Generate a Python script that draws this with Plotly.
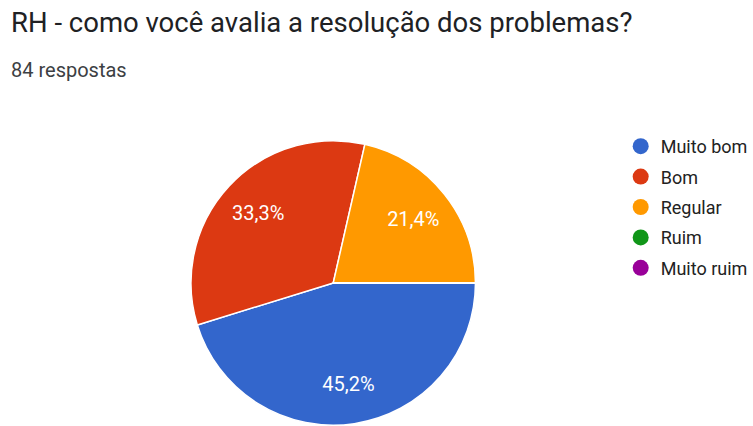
import plotly.graph_objects as go

categories = ["Muito bom", "Bom", "Regular", "Ruim", "Muito ruim"]
counts = [38, 28, 18, 0, 0]
colors = ["#3366cc", "#dc3912", "#ff9900", "#109618", "#990099"]
title_text = "RH - como você avalia a resolução dos problemas?"
subtitle_text = "84 respostas"

W, H = 753, 426
top_m = 140
plot_h = H - top_m

def py(ypix):
    return (H - ypix) / plot_h

dom = dict(x=[(335 - 143) / W, (335 + 143) / W], y=[0, 1])

fig = go.Figure()
fig.add_trace(go.Pie(
    labels=categories, values=counts, sort=False, direction="clockwise",
    rotation=90, marker=dict(colors=colors, line=dict(color="white", width=1.5)),
    textinfo="none", showlegend=False, hoverinfo="label+percent", domain=dom,
))
# transparent ring carrying the percentage labels (places them further out)
fig.add_trace(go.Pie(
    labels=categories, values=counts, sort=False, direction="clockwise",
    rotation=90, hole=0.44,
    marker=dict(colors=["rgba(0,0,0,0)"] * len(categories), line=dict(width=0)),
    texttemplate="%{percent:.1%}", textposition="inside",
    insidetextorientation="horizontal",
    textfont=dict(color="white", size=20, family="Roboto"),
    showlegend=False, hoverinfo="skip", domain=dom,
))
for c, col in zip(categories, colors):
    fig.add_trace(go.Scatter(
        x=[None], y=[None], mode="markers", name=c, legendgroup=c,
        marker=dict(color=col, size=16, symbol="circle"),
    ))

fig.add_annotation(text=title_text, xref="paper", yref="paper", x=9 / W, y=py(22),
                   xanchor="left", yanchor="middle", showarrow=False,
                   font=dict(size=27.5, color="#202124", family="Roboto"))
fig.add_annotation(text=subtitle_text, xref="paper", yref="paper", x=9 / W, y=py(70),
                   xanchor="left", yanchor="middle", showarrow=False,
                   font=dict(size=20, color="#3c4043", family="Roboto"))

fig.update_layout(
    width=W, height=H, margin=dict(l=0, r=0, t=top_m, b=0),
    paper_bgcolor="white", plot_bgcolor="white",
    separators=",.",
    xaxis=dict(visible=False), yaxis=dict(visible=False),
    legend=dict(x=624 / W, y=py(128), xanchor="left", yanchor="top",
                font=dict(size=18, color="#222222", family="Roboto"),
                tracegroupgap=4, bgcolor="rgba(0,0,0,0)"),
    font=dict(family="Roboto"),
)
fig.write_html("out.html", config={"displayModeBar": False},
               post_script="document.body.style.margin='0';")
